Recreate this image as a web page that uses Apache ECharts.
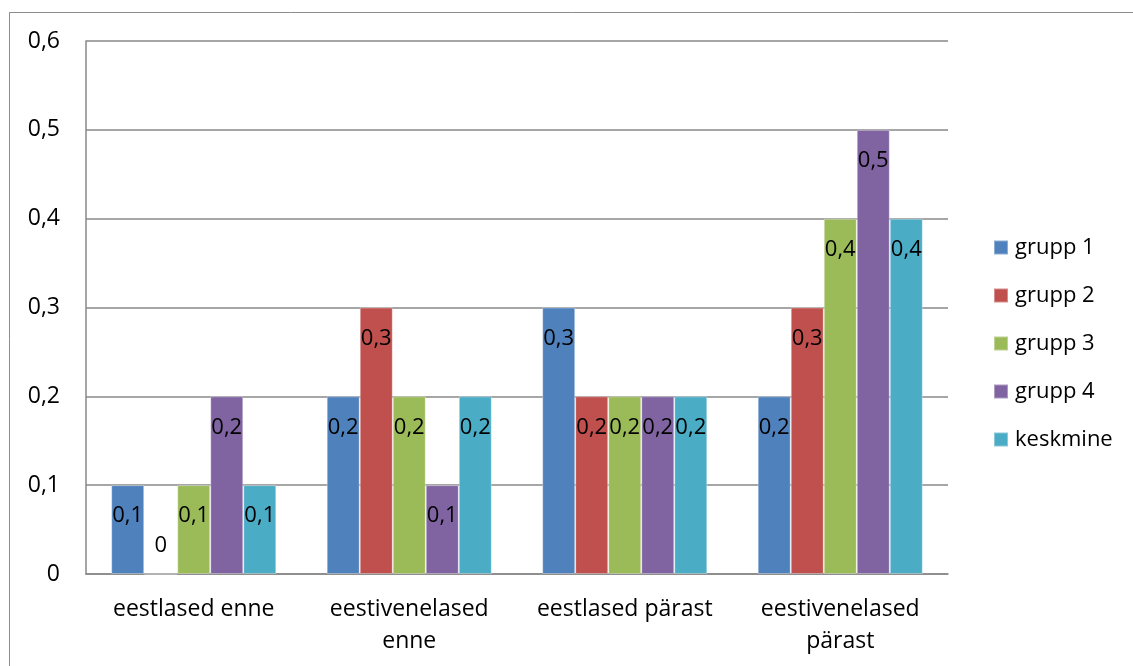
<!DOCTYPE html>
<html>
<head>
<meta charset="utf-8">
<script src="https://cdn.jsdelivr.net/npm/echarts@6/dist/echarts.min.js"></script>
<style>
  html, body { margin: 0; padding: 0; background: #fff; }
  #chart { width: 1133px; height: 666px; }
</style>
</head>
<body>
<div id="chart"></div>
<script>
// Categories (x axis) and series values
const categories = ['eestlased enne', 'eestivenelased\nenne', 'eestlased pärast', 'eestivenelased\npärast'];
const seriesNames = ['grupp 1', 'grupp 2', 'grupp 3', 'grupp 4', 'keskmine'];
const grupp1 = [0.1, 0.2, 0.3, 0.2];
const grupp2 = [0.0, 0.3, 0.2, 0.3];
const grupp3 = [0.1, 0.2, 0.2, 0.4];
const grupp4 = [0.2, 0.1, 0.2, 0.5];
const keskmine = [0.1, 0.2, 0.2, 0.4];
const yTicks = [0, 0.1, 0.2, 0.3, 0.4, 0.5, 0.6];

const seriesValues = [grupp1, grupp2, grupp3, grupp4, keskmine];
const colors = ['#4F81BD', '#C0504D', '#9BBB59', '#8064A2', '#4BACC6'];
const FONT = 'Open Sans';

const fmt = v => String(+v.toFixed(2)).replace('.', ',');

const chart = echarts.init(document.getElementById('chart'));
chart.setOption({
  animation: false,
  textStyle: { fontFamily: FONT },
  graphic: [{
    type: 'rect',
    shape: { x: 9.5, y: 12.5, width: 1200, height: 700 },
    style: { fill: 'none', stroke: '#8c8c8c', lineWidth: 1 },
    silent: true
  }],
  grid: { left: 86, right: 185, top: 41, bottom: 92, containLabel: false },
  legend: {
    orient: 'vertical',
    left: 993,
    top: 236,
    padding: 0,
    itemWidth: 14,
    itemHeight: 14,
    itemGap: 25,
    icon: 'rect',
    data: seriesNames,
    textStyle: { fontSize: 22, color: '#000', fontFamily: FONT, lineHeight: 23, padding: [0, 0, 0, 2] }
  },
  xAxis: {
    type: 'category',
    data: categories,
    axisLine: { lineStyle: { color: '#888', width: 1.5 } },
    axisTick: { show: false },
    axisLabel: { fontSize: 23, color: '#000', lineHeight: 32, margin: 19, interval: 0 }
  },
  yAxis: {
    type: 'value',
    min: yTicks[0],
    max: yTicks[yTicks.length - 1],
    interval: 0.1,
    axisLine: { show: true, lineStyle: { color: '#888', width: 1.5 } },
    axisTick: { show: false },
    splitLine: { lineStyle: { color: '#888', width: 1.5 } },
    axisLabel: { fontSize: 23, color: '#000', margin: 26, formatter: v => fmt(v) }
  },
  series: seriesNames.map((name, i) => ({
    name,
    type: 'bar',
    barGap: '0%',
    barCategoryGap: '23.4%',
    itemStyle: { color: colors[i], borderColor: 'rgba(255,255,255,0.35)', borderWidth: 1 },
    label: {
      show: true,
      position: 'insideTop',
      distance: 20,
      fontSize: 22,
      color: '#000',
      formatter: p => fmt(p.value)
    },
    data: seriesValues[i].map(v => v === 0
      ? { value: v, label: { position: 'top', distance: 17 } }
      : v)
  }))
});
</script>
</body>
</html>
